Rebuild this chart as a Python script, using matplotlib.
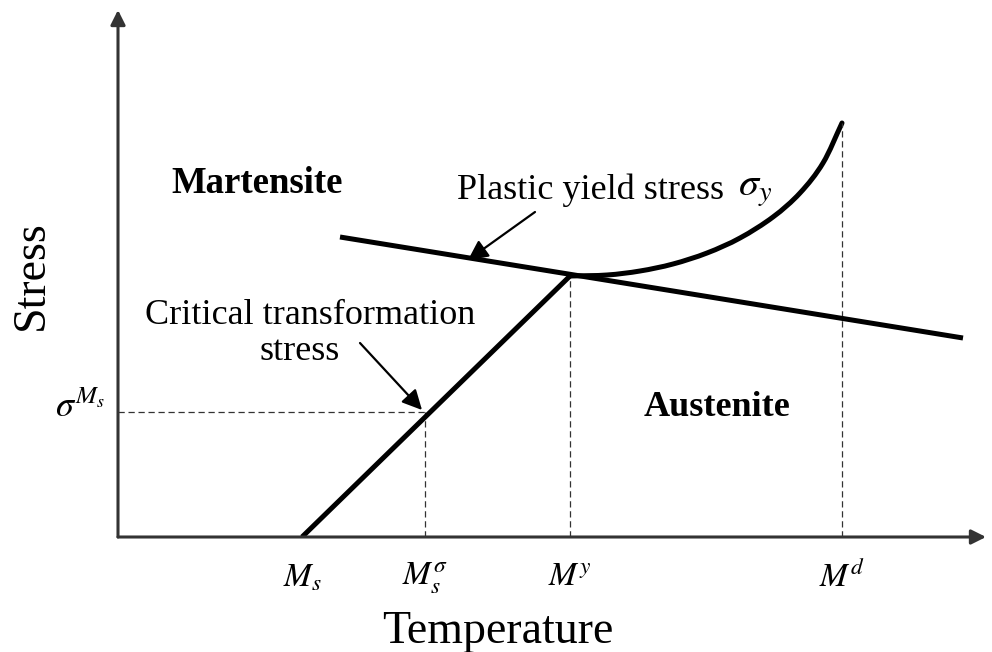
import matplotlib
matplotlib.use("Agg")
import matplotlib.pyplot as plt
from matplotlib.path import Path
from matplotlib.patches import PathPatch
import numpy as np

plt.rcParams["font.family"] = ["Liberation Serif", "DejaVu Serif"]
plt.rcParams["mathtext.fontset"] = "stix"

# Characteristic temperatures (arbitrary units)
T_Ms = 18.4
T_Ms_sigma = 30.7
T_My = 45.2
T_Md = 72.4

# Critical transformation stress line (T, stress)
crit_T = [18.4, 45.2]
crit_S = [0.0, 26.1]

# Stress level at M_s^sigma
sigma_Ms = 12.5

# Plastic yield stress line of martensite
yield_T = [22.2, 84.5]
yield_S = [30.0, 19.9]

# Yield stress of austenite rising toward M^d
curve_T = [45.2, 48.9, 52.2, 55.5, 58.9, 62.2, 65.5, 68.2, 70.5, 72.4]
curve_S = [26.1, 26.2, 26.6, 27.3, 28.4, 29.9, 32.0, 34.4, 37.4, 41.4]

tick_pos = [T_Ms, T_Ms_sigma, T_My, T_Md]
tick_labels = [r"$M_s$", r"$M_s^{\sigma}$", r"$M^{y}$", r"$M^{d}$"]


def smooth_path(xs, ys):
    """Catmull-Rom curve through the points, as cubic Bezier segments."""
    p = np.column_stack([xs, ys]).astype(float)
    ext = np.vstack([p[0] - (p[1] - p[0]), p, p[-1] + (p[-1] - p[-2])])
    verts = [tuple(p[0])]
    codes = [Path.MOVETO]
    for i in range(1, len(ext) - 2):
        p0, p1, p2, p3 = ext[i - 1], ext[i], ext[i + 1], ext[i + 2]
        c1 = p1 + (p2 - p0) / 6
        c2 = p2 - (p3 - p1) / 6
        verts += [tuple(c1), tuple(c2), tuple(p2)]
        codes += [Path.CURVE4] * 3
    return Path(verts, codes)


W, H = 992, 652
fig = plt.figure(figsize=(W / 100, H / 100), dpi=100)
x0, y0 = 118, 537
ax = fig.add_axes([x0 / W, (H - y0) / H, 1 - x0 / W, y0 / H])
ax.set_xlim(0, (W - x0) / 10)
ax.set_ylim(0, y0 / 10)
ax.axis("off")

# Coordinate axes with arrowheads
axis_kw = dict(arrowstyle="-|>", lw=2.2, color="#333333", mutation_scale=22,
               shrinkA=0, shrinkB=0)
ax.annotate("", xy=(86.8, 0), xytext=(0, 0), arrowprops=axis_kw,
            annotation_clip=False)
ax.annotate("", xy=(0, 52.7), xytext=(0, 0), arrowprops=axis_kw,
            annotation_clip=False)

# Dashed guide lines
dash = dict(color="#333333", lw=0.9, ls=(0, (5, 3)))
ax.plot([0, T_Ms_sigma], [sigma_Ms, sigma_Ms], **dash)
ax.plot([T_Ms_sigma, T_Ms_sigma], [0, sigma_Ms], **dash)
ax.plot([T_My, T_My], [0, crit_S[1]], **dash)
ax.plot([T_Md, T_Md], [0, curve_S[-1]], **dash)

# Main curves
ax.plot(crit_T, crit_S, color="black", lw=3.6, solid_capstyle="butt")
ax.plot(yield_T, yield_S, color="black", lw=3.6, solid_capstyle="butt")
ax.add_patch(PathPatch(smooth_path(curve_T, curve_S), facecolor="none",
                       edgecolor="black", lw=3.6, capstyle="round"))

# Region labels
ax.text(13.9, 35.4, "Martensite", fontsize=26.5, fontweight="bold",
        ha="center", va="center")
ax.text(59.9, 12.9, "Austenite", fontsize=26, fontweight="bold",
        ha="center", va="center")

# Annotations
ax.text(33.9, 34.7, "Plastic yield stress", fontsize=26,
        ha="left", va="center")
ax.text(62.0, 34.7, r"$\sigma_y$", fontsize=29, ha="left", va="center")
ax.annotate("", xy=(35.0, 27.7), xytext=(41.7, 32.5),
            arrowprops=dict(arrowstyle="-|>", lw=1.6, color="black",
                            mutation_scale=30, shrinkA=0, shrinkB=0))
ax.text(19.2, 22.2, "Critical transformation", fontsize=26,
        ha="center", va="center")
ax.text(18.2, 18.6, "stress", fontsize=26, ha="center", va="center")
ax.annotate("", xy=(30.4, 12.7), xytext=(24.2, 19.4),
            arrowprops=dict(arrowstyle="-|>", lw=1.6, color="black",
                            mutation_scale=30, shrinkA=0, shrinkB=0))

# Tick labels
for p, lab in zip(tick_pos, tick_labels):
    ax.text(p, -4.1, lab, fontsize=24, ha="center", va="center")
ax.text(-1.3, sigma_Ms + 0.4, r"$\sigma^{M_s}$", fontsize=26,
        ha="right", va="center")

# Axis titles
ax.text(38.0, -9.5, "Temperature", fontsize=33, ha="center", va="center")
ax.text(-8.6, 26.2, "Stress", fontsize=33, ha="center", va="center",
        rotation=90)

fig.savefig("out.png", dpi=100)
